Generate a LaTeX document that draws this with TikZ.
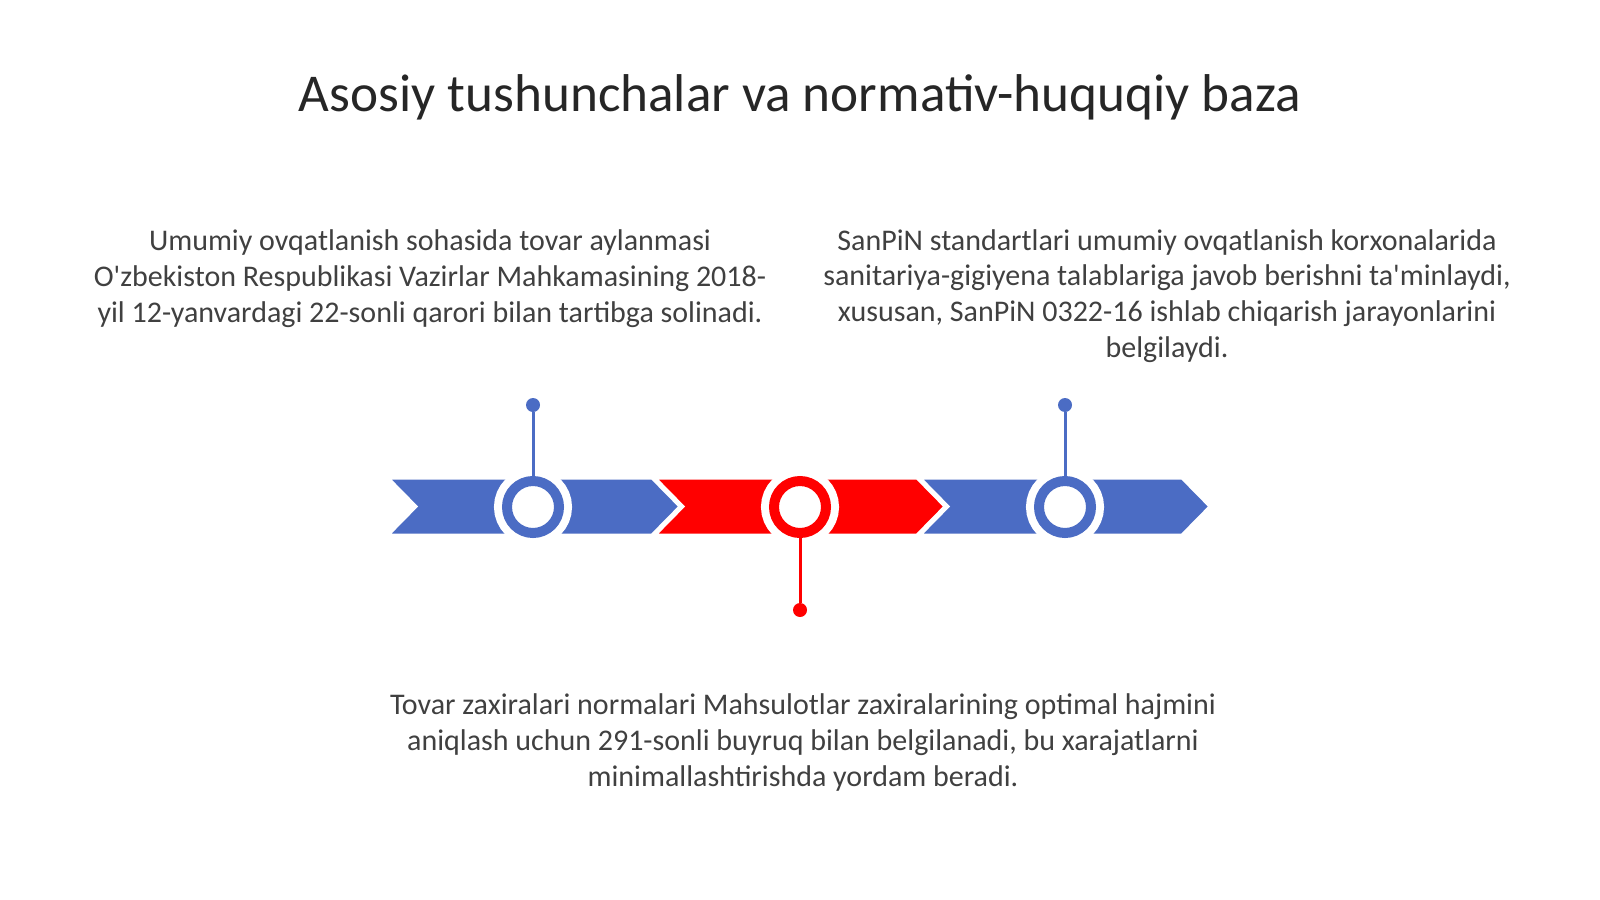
\documentclass[tikz,border=0pt]{standalone}
\usepackage{fontspec}
\setmainfont{Carlito}
\usepackage{xcolor}
\usetikzlibrary{calc}

% Colours of the slide
\definecolor{r75g108b196}{rgb}{0.294118,0.423529,0.768627}%
\definecolor{r255g0b0}{rgb}{1.000000,0.000000,0.000000}%
\definecolor{r64g64b64}{rgb}{0.250980,0.250980,0.250980}%
\definecolor{r38g38b38}{rgb}{0.149020,0.149020,0.149020}%

\tikzset{
  chevron/.style={fill=#1, draw=white, line width=1.5pt, line join=miter},
  ring/.style={circle, inner sep=0pt, minimum size=26pt, fill=white, draw=#1,
    line width=5pt, preaction={draw=white, line width=13pt}},
  pindot/.style={circle, inner sep=0pt, minimum size=7pt, fill=#1},
  stem/.style={draw=#1, line width=1.5pt},
  slidetext/.style={text=r64g64b64, align=center, inner sep=0pt,
    font=\fontsize{15}{17.8}\selectfont},
  slidetitle/.style={text=r38g38b38, inner sep=0pt,
    font=\fontsize{26.6}{32}\selectfont}
}

\begin{document}
\begin{tikzpicture}[x=0.5pt,y=-0.5pt]
% Page frame
\useasboundingbox (0,0) rectangle (1600,899);%

% Title
\node[slidetitle, anchor=base] (title) at (800,112) {Asosiy tushunchalar va normativ-huquqiy baza};%

% Drawing chevron 1 (blue)
\draw[chevron=r75g108b196] (388,478) -- (652,478) -- (680,506.5) -- (652,535) -- (388,535) -- (416,506.5) -- cycle;%

% Drawing chevron 2 (red)
\draw[chevron=r255g0b0] (655,478) -- (917,478) -- (945,506.5) -- (917,535) -- (655,535) -- (683,506.5) -- cycle;%

% Drawing chevron 3 (blue)
\draw[chevron=r75g108b196] (920,478) -- (1182,478) -- (1210,506.5) -- (1182,535) -- (920,535) -- (948,506.5) -- cycle;%

% Marking ring A with pin upwards
\node[ring=r75g108b196] (ringA) at (533,507) {};%
\node[pindot=r75g108b196] (dotA) at (533,405) {};%
\draw[stem=r75g108b196] (dotA) -- (ringA);%

% Marking ring B with pin downwards
\node[ring=r255g0b0] (ringB) at (800,507) {};%
\node[pindot=r255g0b0] (dotB) at (800,610) {};%
\draw[stem=r255g0b0] (ringB) -- (dotB);%

% Marking ring C with pin upwards
\node[ring=r75g108b196] (ringC) at (1065,507) {};%
\node[pindot=r75g108b196] (dotC) at (1065,405) {};%
\draw[stem=r75g108b196] (dotC) -- (ringC);%

% Text of ring A (base = last line)
\node[slidetext, anchor=base] (textA) at (430,322) {Umumiy ovqatlanish sohasida tovar aylanmasi\\
O\textquotesingle zbekiston Respublikasi Vazirlar Mahkamasining 2018-\\
yil 12-yanvardagi 22-sonli qarori bilan tartibga solinadi.};%

% Text of ring C
\node[slidetext, anchor=base] (textC) at (1167,357) {SanPiN standartlari umumiy ovqatlanish korxonalarida\\
sanitariya-gigiyena talablariga javob berishni ta\textquotesingle minlaydi,\\
xususan, SanPiN 0322-16 ishlab chiqarish jarayonlarini\\
belgilaydi.};%

% Text of ring B
\node[slidetext, anchor=base] (textB) at (803,786) {Tovar zaxiralari normalari Mahsulotlar zaxiralarining optimal hajmini\\
aniqlash uchun 291-sonli buyruq bilan belgilanadi, bu xarajatlarni\\
minimallashtirishda yordam beradi.};%
\end{tikzpicture}
\end{document}
